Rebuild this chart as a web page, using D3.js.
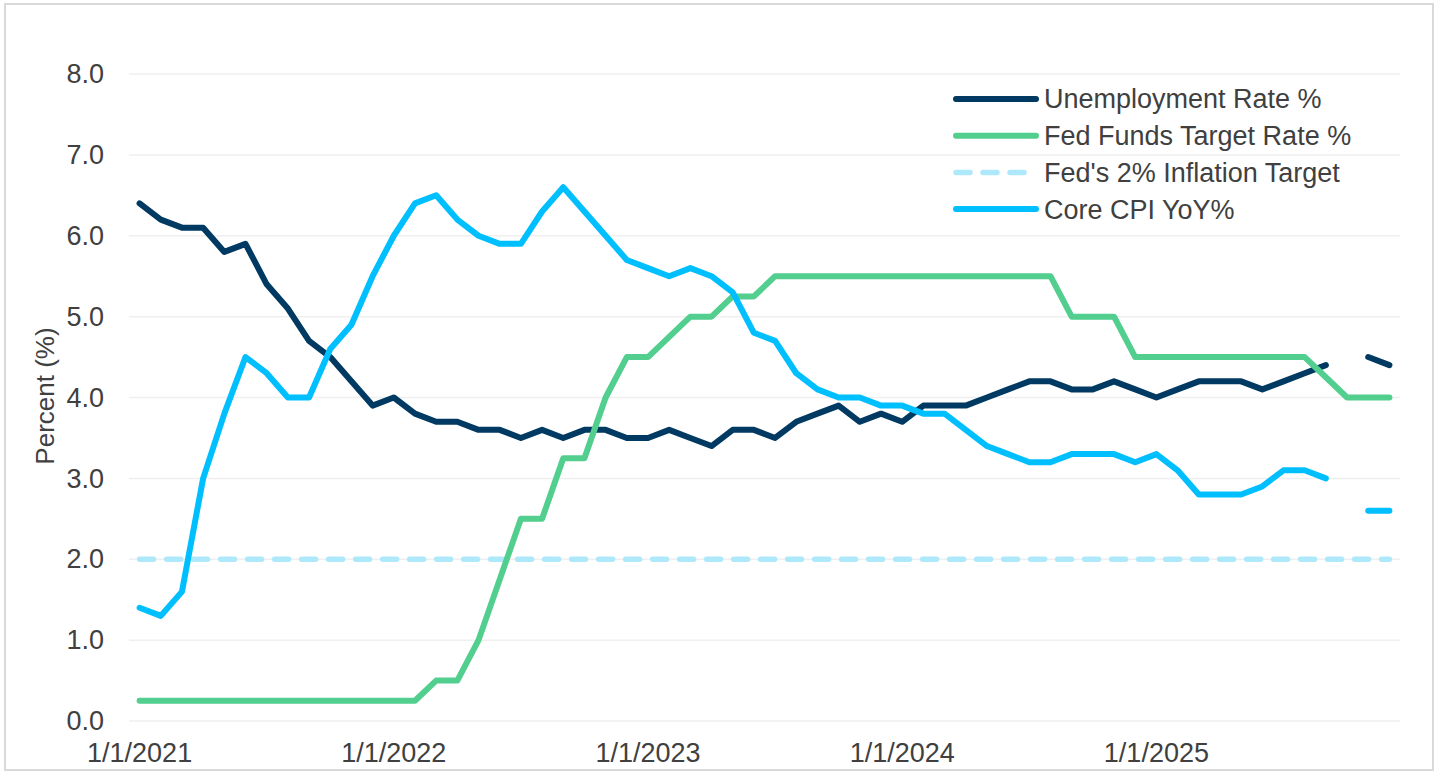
<!DOCTYPE html>
<html>
<head>
<meta charset="utf-8">
<script src="https://cdn.jsdelivr.net/npm/d3@7"></script>
<style>
  html, body { margin: 0; padding: 0; background: #ffffff; }
  svg { display: block; }
  text { font-family: "Liberation Sans", Arial, sans-serif; fill: #404040; }
</style>
</head>
<body>
<svg id="chart" width="1440" height="779"></svg>
<script>
// ---- Data ----
const months = [
  "2021-01","2021-02","2021-03","2021-04","2021-05","2021-06","2021-07","2021-08","2021-09","2021-10","2021-11","2021-12",
  "2022-01","2022-02","2022-03","2022-04","2022-05","2022-06","2022-07","2022-08","2022-09","2022-10","2022-11","2022-12",
  "2023-01","2023-02","2023-03","2023-04","2023-05","2023-06","2023-07","2023-08","2023-09","2023-10","2023-11","2023-12",
  "2024-01","2024-02","2024-03","2024-04","2024-05","2024-06","2024-07","2024-08","2024-09","2024-10","2024-11","2024-12",
  "2025-01","2025-02","2025-03","2025-04","2025-05","2025-06","2025-07","2025-08","2025-09","2025-10","2025-11","2025-12"
];

const unemployment = [
  6.4, 6.2, 6.1, 6.1, 5.8, 5.9, 5.4, 5.1, 4.7, 4.5, 4.2, 3.9,
  4.0, 3.8, 3.7, 3.7, 3.6, 3.6, 3.5, 3.6, 3.5, 3.6, 3.6, 3.5,
  3.5, 3.6, 3.5, 3.4, 3.6, 3.6, 3.5, 3.7, 3.8, 3.9, 3.7, 3.8,
  3.7, 3.9, 3.9, 3.9, 4.0, 4.1, 4.2, 4.2, 4.1, 4.1, 4.2, 4.1,
  4.0, 4.1, 4.2, 4.2, 4.2, 4.1, 4.2, 4.3, 4.4, null, 4.5, 4.4
];

const fedFunds = [
  0.25, 0.25, 0.25, 0.25, 0.25, 0.25, 0.25, 0.25, 0.25, 0.25, 0.25, 0.25,
  0.25, 0.25, 0.5, 0.5, 1.0, 1.75, 2.5, 2.5, 3.25, 3.25, 4.0, 4.5,
  4.5, 4.75, 5.0, 5.0, 5.25, 5.25, 5.5, 5.5, 5.5, 5.5, 5.5, 5.5,
  5.5, 5.5, 5.5, 5.5, 5.5, 5.5, 5.5, 5.5, 5.0, 5.0, 5.0, 4.5,
  4.5, 4.5, 4.5, 4.5, 4.5, 4.5, 4.5, 4.5, 4.25, 4.0, 4.0, 4.0
];

const inflationTarget = [
  2, 2, 2, 2, 2, 2, 2, 2, 2, 2, 2, 2,
  2, 2, 2, 2, 2, 2, 2, 2, 2, 2, 2, 2,
  2, 2, 2, 2, 2, 2, 2, 2, 2, 2, 2, 2,
  2, 2, 2, 2, 2, 2, 2, 2, 2, 2, 2, 2,
  2, 2, 2, 2, 2, 2, 2, 2, 2, 2, 2, 2
];

const coreCPI = [
  1.4, 1.3, 1.6, 3.0, 3.8, 4.5, 4.3, 4.0, 4.0, 4.6, 4.9, 5.5,
  6.0, 6.4, 6.5, 6.2, 6.0, 5.9, 5.9, 6.3, 6.6, 6.3, 6.0, 5.7,
  5.6, 5.5, 5.6, 5.5, 5.3, 4.8, 4.7, 4.3, 4.1, 4.0, 4.0, 3.9,
  3.9, 3.8, 3.8, 3.6, 3.4, 3.3, 3.2, 3.2, 3.3, 3.3, 3.3, 3.2,
  3.3, 3.1, 2.8, 2.8, 2.8, 2.9, 3.1, 3.1, 3.0, null, 2.6, 2.6
];

const xTickMonths = ["2021-01", "2022-01", "2023-01", "2024-01", "2025-01"];
const xTickLabels = ["1/1/2021", "1/1/2022", "1/1/2023", "1/1/2024", "1/1/2025"];
const yTicks = [0, 1, 2, 3, 4, 5, 6, 7, 8];

const seriesNames = ["Unemployment Rate %", "Fed Funds Target Rate %", "Fed's 2% Inflation Target", "Core CPI YoY%"];
const seriesColors = ["#003A63", "#52CE8F", "#AEE9FB", "#00BFFF"];

// ---- Chart ----
const svg = d3.select("#chart");

// outer border
svg.append("rect")
  .attr("x", 5).attr("y", 4).attr("width", 1428).attr("height", 766)
  .attr("fill", "#ffffff").attr("stroke", "#d9d9d9").attr("stroke-width", 2);

const plot = { left: 129, right: 1400, top: 74, bottom: 721 };

const x = d3.scaleBand().domain(months).range([plot.left, plot.right]).paddingInner(0).paddingOuter(0);
const cx = m => x(m) + x.bandwidth() / 2;
const y = d3.scaleLinear().domain([0, 8]).range([plot.bottom, plot.top]);

// gridlines
svg.append("g")
  .selectAll("line").data(yTicks).join("line")
  .attr("x1", plot.left).attr("x2", plot.right)
  .attr("y1", d => y(d)).attr("y2", d => y(d))
  .attr("stroke", "#efefef").attr("stroke-width", 1.5);

// y axis labels
const yAxis = d3.axisLeft(y).tickValues(yTicks).tickFormat(d3.format(".1f")).tickSize(0).tickPadding(0);
const gy = svg.append("g").attr("transform", `translate(104,0)`).call(yAxis);
gy.select(".domain").remove();
gy.selectAll("text").attr("font-size", 27).attr("fill", "#404040")
  .style("font-family", '"Liberation Sans", Arial, sans-serif');

// x axis labels
const xAxis = d3.axisBottom(x).tickValues(xTickMonths)
  .tickFormat(m => xTickLabels[xTickMonths.indexOf(m)]).tickSize(0).tickPadding(0);
const gx = svg.append("g").attr("transform", `translate(0,743)`).call(xAxis);
gx.select(".domain").remove();
gx.selectAll("text").attr("font-size", 27).attr("fill", "#404040")
  .style("font-family", '"Liberation Sans", Arial, sans-serif');

// y axis title
svg.append("text")
  .attr("transform", "translate(54,396) rotate(-90)")
  .attr("text-anchor", "middle")
  .attr("font-size", 26)
  .text("Percent (%)");

// lines
const line = d3.line()
  .defined(d => d.v !== null)
  .x(d => cx(d.m))
  .y(d => y(d.v));

const toPts = arr => arr.map((v, i) => ({ m: months[i], v: v }));

const seriesData = [unemployment, fedFunds, inflationTarget, coreCPI];
const drawOrder = [2, 0, 1, 3];

drawOrder.forEach(i => {
  const p = svg.append("path")
    .datum(toPts(seriesData[i]))
    .attr("d", line)
    .attr("fill", "none")
    .attr("stroke", seriesColors[i])
    .attr("stroke-linecap", "round")
    .attr("stroke-linejoin", "round");
  if (i === 2) {
    p.attr("stroke-width", 5.5).attr("stroke-dasharray", "14 13");
  } else {
    p.attr("stroke-width", 6);
  }
});

// legend
const legend = svg.append("g");
const legY0 = 99, legDy = 36.7;
seriesNames.forEach((name, i) => {
  const yy = legY0 + i * legDy;
  const l = legend.append("line")
    .attr("x1", 956).attr("x2", 1036)
    .attr("y1", yy).attr("y2", yy)
    .attr("stroke", seriesColors[i])
    .attr("stroke-linecap", "round");
  if (i === 2) {
    l.attr("stroke-width", 5.5).attr("stroke-dasharray", "14 13");
  } else {
    l.attr("stroke-width", 6);
  }
  legend.append("text")
    .attr("x", 1044).attr("y", yy)
    .attr("dy", "0.35em")
    .attr("font-size", 27)
    .text(name);
});
</script>
</body>
</html>
